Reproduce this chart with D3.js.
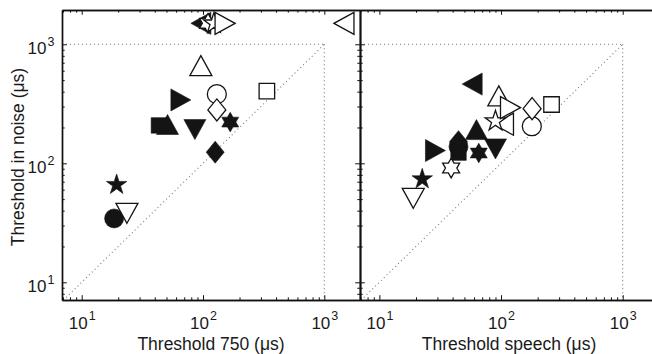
<!DOCTYPE html>
<html><head><meta charset="utf-8">
<script src="https://cdn.jsdelivr.net/npm/d3@7"></script>
<style>
html,body{margin:0;padding:0;background:#fff;}
svg{display:block;}
text{font-family:"Liberation Sans",Arial,Helvetica,sans-serif;fill:#1a1a1a;}
</style></head>
<body>
<svg id="chart" width="652" height="354"></svg>
<script>
// ---- data ----
const shapes = ["circle","square","diamond","triUp","triDown","triRight","triLeft","pentagram","hexagram",
                "circle","square","diamond","triDown","hexagram","triLeft","triUp","pentagram","triRight"];
const filled = [true,true,true,true,true,true,true,true,true,
                false,false,false,false,false,false,false,false,false];
// Left panel: Threshold 750 (µs) vs Threshold in noise (µs)
const thr750   = [18.5, 43.3, 126, 51, 85.7, 65.7, 96, 19.4, 167.6,
                  130, 336, 130, 23.6, 110, 1452, 96, 123, 152];
const noiseL   = [34.4, 208, 124, 212, 192, 341, 1500, 66, 222,
                  381, 404, 281, 38, 1500, 1500, 662, 1500, 1500];
// Right panel: Threshold speech (µs) vs Threshold in noise (µs)
const thrSpeech = [44.7, 44.7, 44.7, 62.8, 90, 28.9, 57.9, 22.5, 65.6,
                   179, 260, 180, 19, 38.9, 104.7, 95.9, 90, 119.6];
const noiseR    = [138, 123, 152, 192, 132, 128, 463, 73.6, 122,
                   205, 312, 288, 50.8, 91.2, 213, 369, 226, 294];
const majorTicks = [10, 100, 1000];
const tickBase = ["10","10","10"];
const tickExp = ["1","2","3"];
const xLabels = ["Threshold 750 (\u03bcs)", "Threshold speech (\u03bcs)"];
const yLabel = "Threshold in noise (\u03bcs)";

// ---- layout ----
const svg = d3.select("#chart");
const plotTop = 10, plotBottom = 300;
const y = d3.scaleLog().domain([7.1, 1942]).range([plotBottom, plotTop]);
const panels = [
  {x: d3.scaleLog().domain([6.88, 1968]).range([62, 360]), xs: thr750, ys: noiseL, label: xLabels[0], id: "L"},
  {x: d3.scaleLog().domain([6.93, 1950]).range([360, 658]), xs: thrSpeech, ys: noiseR, label: xLabels[1], id: "R"}
];

function minorTicks(dom){
  const out = [];
  for (let e = 0; e <= 3; e++) for (let m = 2; m <= 9; m++) {
    const v = m * Math.pow(10, e);
    if (v >= dom[0] && v <= dom[1]) out.push(v);
  }
  return out;
}

function shapePath(s){
  const p = d3.path();
  const poly = pts => { p.moveTo(pts[0][0], pts[0][1]); pts.slice(1).forEach(q => p.lineTo(q[0], q[1])); p.closePath(); };
  if (s === "circle") { p.moveTo(9.5, 0); p.arc(0, 0, 9.5, 0, 2 * Math.PI); p.closePath(); }
  else if (s === "square") { const h = 7.75; poly([[-h,-h],[h,-h],[h,h],[-h,h]]); }
  else if (s === "diamond") { poly([[0,-11],[9,0],[0,11],[-9,0]]); }
  else if (s === "triUp") { poly([[0,-10],[11,10],[-11,10]]); }
  else if (s === "triDown") { poly([[0,10],[11,-10],[-11,-10]]); }
  else if (s === "triRight") { poly([[10,0],[-10,11],[-10,-11]]); }
  else if (s === "triLeft") { poly([[-10,0],[10,11],[10,-11]]); }
  else if (s === "pentagram") {
    const R = 10.8, r = R * 0.382, pts = [];
    for (let i = 0; i < 10; i++) { const a = -Math.PI/2 + i * Math.PI/5, rr = i % 2 ? r : R; pts.push([rr*Math.cos(a), rr*Math.sin(a)]); }
    poly(pts);
  } else if (s === "hexagram") {
    const R = 9.8, r = R / Math.sqrt(3), pts = [];
    for (let i = 0; i < 12; i++) { const a = -Math.PI/2 + i * Math.PI/6, rr = i % 2 ? r : R; pts.push([rr*Math.cos(a), rr*Math.sin(a)]); }
    poly(pts);
  }
  return p.toString();
}

const axisStyle = g => {
  g.selectAll("path.domain").attr("stroke", "#111").attr("stroke-width", 1.4);
  g.selectAll(".tick line").attr("stroke", "#111").attr("stroke-width", 1);
  g.selectAll(".tick text").remove();
};

panels.forEach((P, pi) => {
  const x = P.x;
  const [x0, x1] = x.range();
  const g = svg.append("g");
  g.append("clipPath").attr("id", "clip" + P.id)
    .append("rect").attr("x", x0).attr("y", plotTop).attr("width", x1 - x0).attr("height", plotBottom - plotTop);

  // dotted reference lines
  const ref = g.append("g").attr("clip-path", `url(#clip${P.id})`)
    .attr("fill", "none").attr("stroke", "#777").attr("stroke-width", 1.1).attr("stroke-dasharray", "1 3");
  ref.append("line").attr("x1", x(6)).attr("y1", y(6)).attr("x2", x(1000)).attr("y2", y(1000));
  ref.append("line").attr("x1", x0).attr("y1", y(1000)).attr("x2", x(1000)).attr("y2", y(1000));
  ref.append("line").attr("x1", x(1000)).attr("y1", y(1000)).attr("x2", x(1000)).attr("y2", plotBottom);

  // axes (inward ticks on all sides)
  const xmin = minorTicks(x.domain()), ymin = minorTicks(y.domain());
  const mk = [
    [() => d3.axisBottom(x), `translate(0,${plotBottom})`, true],
    [() => d3.axisTop(x), `translate(0,${plotTop})`, true],
    [() => d3.axisLeft(y), `translate(${x0},0)`, false]
  ];
  if (pi === 0) mk.push([() => d3.axisRight(y), `translate(${x1},0)`, false]);
  mk.forEach(([axf, tr, isX]) => {
    g.append("g").attr("transform", tr)
      .call(axf().tickValues(isX ? xmin : ymin).tickSize(-2.7).tickSizeOuter(0).tickFormat(""))
      .call(axisStyle);
    g.append("g").attr("transform", tr)
      .call(axf().tickValues(majorTicks).tickSize(-4.8).tickSizeOuter(0).tickFormat(""))
      .call(axisStyle);
  });

  // x tick labels
  majorTicks.forEach((v, i) => {
    const tx = x(v);
    g.append("text").attr("x", tx + 6).attr("y", 329).attr("text-anchor", "end")
      .attr("font-size", 17).text(tickBase[i]);
    g.append("text").attr("x", tx + 7).attr("y", 320).attr("text-anchor", "start")
      .attr("font-size", 12.5).text(tickExp[i]);
  });
  // y tick labels (left panel only)
  if (pi === 0) {
    majorTicks.forEach((v, i) => {
      const ty = y(v);
      g.append("text").attr("x", 46.5).attr("y", ty + 10).attr("text-anchor", "end")
        .attr("font-size", 17).text(tickBase[i]);
      g.append("text").attr("x", 47.5).attr("y", ty + 1.5).attr("text-anchor", "start")
        .attr("font-size", 12.5).text(tickExp[i]);
    });
    g.append("text").attr("transform", `translate(23.5,157) rotate(-90)`)
      .attr("text-anchor", "middle").attr("font-size", 17.5).text(yLabel);
  }
  g.append("text").attr("x", (x0 + x1) / 2).attr("y", 350).attr("text-anchor", "middle")
    .attr("font-size", 17.5).text(P.label);

  // markers
  const idx = d3.range(shapes.length);
  g.append("g").selectAll("path").data(idx).join("path")
    .attr("transform", i => `translate(${x(P.xs[i])},${y(P.ys[i])})`)
    .attr("d", i => shapePath(shapes[i]))
    .attr("fill", i => filled[i] ? "#141414" : "#fff")
    .attr("stroke", "#141414")
    .attr("stroke-width", i => filled[i] ? 0.6 : 1.3)
    .attr("stroke-linejoin", "miter");
});
</script>
</body></html>
